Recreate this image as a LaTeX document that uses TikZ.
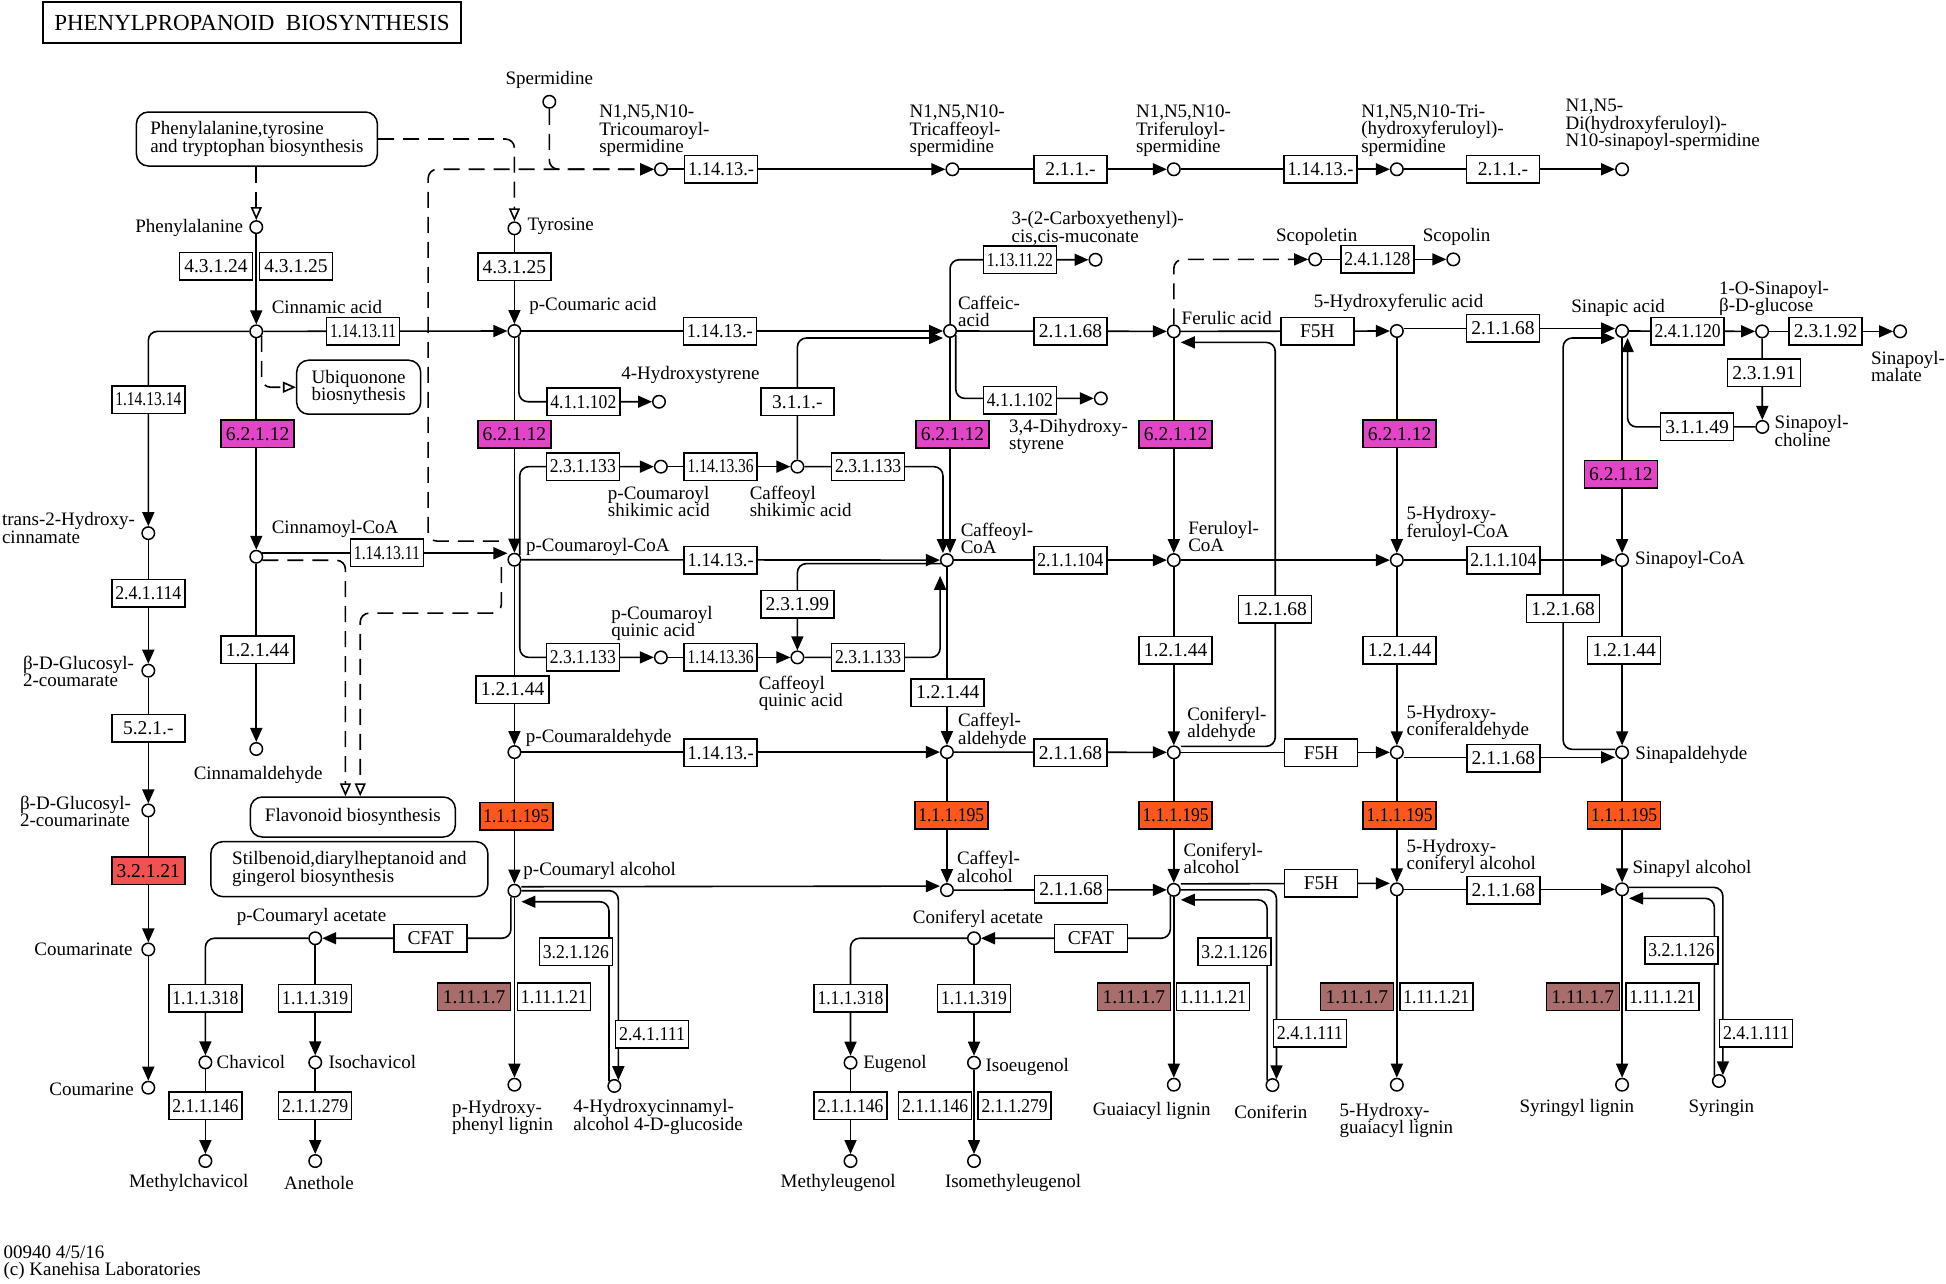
\documentclass[tikz,border=0pt]{standalone}
\usepackage{graphicx}
\usepackage{fontspec}
\setmainfont{Liberation Serif}
\usetikzlibrary{arrows.meta,backgrounds}
\definecolor{ecmag}{RGB}{226,70,198}
\definecolor{ecora}{RGB}{252,88,30}
\definecolor{ecred}{RGB}{240,82,82}
\definecolor{ecbrn}{RGB}{168,110,110}
\newcommand\lbl{\fontsize{19}{17.5}\selectfont}
\newcommand\ectext{\fontsize{19.5}{19.5}\selectfont}
\newsavebox\ecsave
\newcommand\ecfit[1]{\sbox\ecsave{#1}\ifdim\wd\ecsave>66pt\pgfmathsetmacro\ecratio{66/\wd\ecsave}\scalebox{\ecratio}[1]{#1}\else\usebox\ecsave\fi}
\newcommand\ec[4][white]{\node[ec,fill=#1] (#2) at (#3) {\ecfit{#4}};}
\newcommand\cpd[2]{\node[cpd] (#1) at (#2) {};}
\begin{document}
\begin{tikzpicture}[x=1.241pt,y=-1.241pt,
  >={Triangle[length=14pt,width=12pt]},
  cpd/.style={circle,draw,fill=white,line width=1.5pt,inner sep=0pt,minimum size=12.5pt},
  ec/.style={draw,fill=white,line width=1.5pt,minimum width=73pt,minimum height=27.5pt,inner sep=0pt,font=\ectext},
  lab/.style={inner sep=0pt,align=left,font=\lbl},
  mapbox/.style={draw,fill=white,rounded corners=12pt,line width=1.5pt,align=left,font=\lbl},
  conn/.style={line width=1.6pt,rounded corners=9pt},
  dlink/.style={dash pattern=on 16pt off 9pt},
  tomap/.style={dlink,-{Triangle[fill=white,length=13pt,width=11pt]}}]
\useasboundingbox (0,0) rectangle (1568,1034);
\node[draw,line width=2.5pt,minimum width=418pt,minimum height=41pt,font=\fontsize{23}{23}\selectfont] (title) at (203,18.2) {PHENYLPROPANOID\ \ BIOSYNTHESIS};
% maps
\node[mapbox,minimum width=241pt,minimum height=54pt] (pty) at (207,112) {Phenylalanine,tyrosine\\and tryptophan biosynthesis};
\node[mapbox,minimum width=124pt,minimum height=54pt] (ubi) at (289,312) {Ubiquonone\\biosnythesis};
\node[mapbox,minimum width=205pt,minimum height=40pt] (fla) at (284.3,658.3) {Flavonoid biosynthesis};
\node[mapbox,minimum width=277pt,minimum height=55pt] (stl) at (281.5,700.3) {Stilbenoid,diarylheptanoid and\\gingerol biosynthesis};
% compounds
\cpd{spd}{442.6,82}
\cpd{phe}{206.5,183}
\cpd{tyr}{414.5,184}
\cpd{tcs}{532.6,136.4}
\cpd{tcfs}{767.4,136.4}
\cpd{tfs}{945.8,136.4}
\cpd{thfs}{1125.5,136.4}
\cpd{dhfs}{1307,136.4}
\cpd{ccm}{882.7,209.3}
\cpd{scp}{1059.7,209}
\cpd{scn}{1171,209}
\cpd{cin}{206.5,267}
\cpd{pca}{414.5,266.7}
\cpd{caf}{765.5,266.7}
\cpd{fer}{945.8,267}
\cpd{hfa}{1125.5,266.7}
\cpd{sa}{1307,266.7}
\cpd{sgl}{1419.8,267}
\cpd{smal}{1531,267}
\cpd{hst}{531,323.7}
\cpd{dhst}{887,321}
\cpd{sch}{1420,344}
\cpd{pcs}{532.5,376}
\cpd{cfs}{642.5,376}
\cpd{th}{119.5,429.6}
\cpd{cca}{206.5,448.6}
\cpd{pcoa}{414.5,451}
\cpd{cfcoa}{763,451.3}
\cpd{fcoa}{945.8,451.3}
\cpd{hfcoa}{1125.5,451.3}
\cpd{scoa}{1307,451.3}
\cpd{pcq}{532.5,529.7}
\cpd{cfq}{642.5,529.7}
\cpd{gc}{119.5,540.4}
\cpd{cal}{206.5,603.5}
\cpd{pcald}{414.5,606}
\cpd{cald}{763,606}
\cpd{cnald}{945.8,606.2}
\cpd{hcald}{1125.5,606.2}
\cpd{sald}{1307,606.2}
\cpd{gcn}{119.5,653}
\cpd{pcoh}{414.5,717.7}
\cpd{caoh}{763,717.2}
\cpd{cnoh}{945.8,717}
\cpd{hcoh}{1125.5,716.6}
\cpd{snoh}{1307,716.6}
\cpd{pcac}{254,756}
\cpd{cnac}{784.8,756}
\cpd{cmt}{119.5,765}
\cpd{chv}{165.5,856}
\cpd{ichv}{254,856}
\cpd{eug}{685.3,856.3}
\cpd{ieug}{784.8,856.3}
\cpd{pcl}{414.5,874}
\cpd{hcg}{495,875}
\cpd{gl}{945.8,874}
\cpd{cnf}{1025.3,874.3}
\cpd{hgl}{1125.5,874}
\cpd{sl}{1307,874}
\cpd{syr}{1385,871}
\cpd{cmn}{119.5,876.4}
\cpd{mchv}{165.5,935.5}
\cpd{anet}{254,935.5}
\cpd{meug}{685.3,935.5}
\cpd{imeug}{784.8,935.5}
% enzymes
\ec{e4324}{174,214.5}{4.3.1.24}
\ec{e4325a}{238.5,214.5}{4.3.1.25}
\ec{e4325b}{414.5,215}{4.3.1.25}
\ec{e1141311a}{292.6,267}{1.14.13.11}
\ec{e1141314}{119.5,322}{1.14.13.14}
\ec{e1141311b}{311.8,445.4}{1.14.13.11}
\ec{e241114}{119.5,478}{2.4.1.114}
\ec{e521}{119.5,586.6}{5.2.1.-}
\ec[ecred]{e32121}{119.5,701.6}{3.2.1.21}
\foreach \n/\p in {a/{207.6,349.5},b/{414.5,349.7},c/{767.5,349.7},d/{947.3,349.7},e/{1127.7,349.5},f/{1306,382}}
  {\ec[ecmag]{e6212\n}{\p}{6.2.1.12}}
\foreach \n/\p in {a/{207.5,523.5},b/{413,555.7},c/{763.6,558},d/{947.3,523.8},e/{1127.7,523.8},f/{1308.7,523.8}}
  {\ec{e12144\n}{\p}{1.2.1.44}}
\foreach \n/\p in {a/{416,657.5},b/{766.5,656.7},c/{947.3,656.7},d/{1127.7,656.7},e/{1308.7,656.7}}
  {\ec[ecora]{e111195\n}{\p}{1.1.1.195}}
\ec{e11413a}{581,136.4}{1.14.13.-}
\ec{e211a}{862.5,136.4}{2.1.1.-}
\ec{e11413b}{1064,136.4}{1.14.13.-}
\ec{e211b}{1211,136.4}{2.1.1.-}
\ec{e11413c}{580,266.7}{1.14.13.-}
\ec{e11413d}{580.7,451.5}{1.14.13.-}
\ec{e11413e}{580.7,606.5}{1.14.13.-}
\ec{e41102a}{470,323.7}{4.1.1.102}
\ec{e41102b}{821.8,322.3}{4.1.1.102}
\ec{e23133a}{469.6,376}{2.3.1.133}
\ec{e23133b}{699.5,376}{2.3.1.133}
\ec{e23133c}{469.6,529.7}{2.3.1.133}
\ec{e23133d}{699.5,529.7}{2.3.1.133}
\ec{e1141336a}{580.7,376}{1.14.13.36}
\ec{e1141336b}{580.7,529.7}{1.14.13.36}
\ec{e311}{642.5,323.7}{3.1.1.-}
\ec{e23199}{642.5,486.7}{2.3.1.99}
\ec{e1131122}{821.8,209.3}{1.13.11.22}
\ec{e21168a}{862.5,266.7}{2.1.1.68}
\ec{e21168b}{1211,264.6}{2.1.1.68}
\ec{e21168c}{862.5,606.5}{2.1.1.68}
\ec{e21168d}{1211.3,611}{2.1.1.68}
\ec{e21168e}{863,716.5}{2.1.1.68}
\ec{e21168f}{1211.3,717.2}{2.1.1.68}
\ec{e211104a}{862.5,451.5}{2.1.1.104}
\ec{e211104b}{1211.3,451.5}{2.1.1.104}
\ec{e241128}{1109.8,209}{2.4.1.128}
\ec{f5ha}{1061.5,267}{F5H}
\ec{f5hb}{1064.5,606.5}{F5H}
\ec{f5hc}{1064.5,711.8}{F5H}
\ec{e241120}{1359.8,267}{2.4.1.120}
\ec{e23192}{1471,267}{2.3.1.92}
\ec{e23191}{1421.3,300.3}{2.3.1.91}
\ec{e31149}{1367.4,344}{3.1.1.49}
\ec{e12168a}{1027.5,491}{1.2.1.68}
\ec{e12168b}{1259.5,490.5}{1.2.1.68}
\ec{cfata}{347,756}{CFAT}
\ec{cfatb}{879,756}{CFAT}
\ec{e111318a}{165.5,804.5}{1.1.1.318}
\ec{e111319a}{254,804.5}{1.1.1.319}
\ec{e211146a}{165.5,891}{2.1.1.146}
\ec{e211279a}{254,891}{2.1.1.279}
\ec{e111318b}{685.3,804.5}{1.1.1.318}
\ec{e111319b}{784.8,804.5}{1.1.1.319}
\ec{e211146b}{685.3,891}{2.1.1.146}
\ec{e211146c}{753.5,891}{2.1.1.146}
\ec{e211279b}{817.6,891}{2.1.1.279}
\foreach \n/\x in {a/382,b/913.6,c/1093.3,d/1275.3}
  {\ec[ecbrn]{e11117\n}{\x,803.2}{1.11.1.7}}
\foreach \n/\x in {a/446.3,b/977.5,c/1157.3,d/1339.4}
  {\ec{e111121\n}{\x,803.2}{1.11.1.21}}
\ec{e321126a}{464,767}{3.2.1.126}
\ec{e321126b}{994.5,767}{3.2.1.126}
\ec{e321126c}{1354.7,765.5}{3.2.1.126}
\ec{e241111a}{525.5,833.5}{2.4.1.111}
\ec{e241111b}{1055.5,832.7}{2.4.1.111}
\ec{e241111c}{1414.9,832.7}{2.4.1.111}
% labels
\node[lab] (lspd) at (442.6,64.5) {Spermidine};
\node[lab,anchor=east] (lphe) at (196,184) {Phenylalanine};
\node[lab,anchor=west] (ltyr) at (425,182) {Tyrosine};
\node[lab,anchor=west] (ltcs) at (482.7,105.5) {N1,N5,N10-\\Tricoumaroyl-\\spermidine};
\node[lab,anchor=west] (ltcfs) at (732.8,105.5) {N1,N5,N10-\\Tricaffeoyl-\\spermidine};
\node[lab,anchor=west] (ltfs) at (915.2,105.5) {N1,N5,N10-\\Triferuloyl-\\spermidine};
\node[lab,anchor=west] (lthfs) at (1096.7,105.3) {N1,N5,N10-Tri-\\(hydroxyferuloyl)-\\spermidine};
\node[lab,anchor=west] (ldhfs) at (1261.3,100.7) {N1,N5-\\Di(hydroxyferuloyl)-\\N10-sinapoyl-spermidine};
\node[lab,anchor=west] (lccm) at (815,184.2) {3-(2-Carboxyethenyl)-\\cis,cis-muconate};
\node[lab] (lscp) at (1061,190.7) {Scopoletin};
\node[lab] (lscn) at (1173.6,190.7) {Scopolin};
\node[lab,anchor=west] (lcin) at (218.8,247) {Cinnamic acid};
\node[lab,anchor=west] (lpca) at (426.4,246.6) {p-Coumaric acid};
\node[lab,anchor=west] (lcaf) at (771.8,251) {Caffeic-\\acid};
\node[lab,anchor=west] (lfer) at (952,256.5) {Ferulic acid};
\node[lab,anchor=west] (lhfa) at (1058.5,244.4) {5-Hydroxyferulic acid};
\node[lab,anchor=west] (lsa) at (1266,248.5) {Sinapic acid};
\node[lab,anchor=west] (lsgl) at (1385,240.3) {1-O-Sinapoyl-\\β-D-glucose};
\node[lab,anchor=west] (lsmal) at (1507.5,295.3) {Sinapoyl-\\malate};
\node[lab,anchor=west] (lsch) at (1429.8,347.2) {Sinapoyl-\\choline};
\node[lab,anchor=west] (lhst) at (500.5,302) {4-Hydroxystyrene};
\node[lab,anchor=west] (ldhst) at (813,351.8) {3,4-Dihydroxy-\\styrene};
\node[lab,anchor=west] (lth) at (1.5,425.5) {trans-2-Hydroxy-\\cinnamate};
\node[lab,anchor=west] (lcca) at (218.8,426.5) {Cinnamoyl-CoA};
\node[lab,anchor=west] (lpcoa) at (423.7,440.5) {p-Coumaroyl-CoA};
\node[lab,anchor=west] (lpcs) at (489.7,404) {p-Coumaroyl\\shikimic acid};
\node[lab,anchor=west] (lcfs) at (604,404) {Caffeoyl\\shikimic acid};
\node[lab,anchor=west] (lcfcoa) at (774,433.8) {Caffeoyl-\\CoA};
\node[lab,anchor=west] (lfcoa) at (957.3,432.3) {Feruloyl-\\CoA};
\node[lab,anchor=west] (lhfcoa) at (1133.2,422.3) {5-Hydroxy-\\feruloyl-CoA};
\node[lab,anchor=west] (lscoa) at (1317.3,451.3) {Sinapoyl-CoA};
\node[lab,anchor=west] (lpcq) at (492.4,502.3) {p-Coumaroyl\\quinic acid};
\node[lab,anchor=west] (lcfq) at (611.3,558.7) {Caffeoyl\\quinic acid};
\node[lab,anchor=west] (lgc) at (18.4,541) {β-D-Glucosyl-\\2-coumarate};
\node[lab] (lcal) at (208,624.5) {Cinnamaldehyde};
\node[lab,anchor=west] (lpcald) at (423.6,595) {p-Coumaraldehyde};
\node[lab,anchor=west] (lcald) at (771.8,589) {Caffeyl-\\aldehyde};
\node[lab,anchor=west] (lcnald) at (956.5,583.6) {Coniferyl-\\aldehyde};
\node[lab,anchor=west] (lhcald) at (1133.2,582) {5-Hydroxy-\\coniferaldehyde};
\node[lab,anchor=west] (lsald) at (1317.6,608.4) {Sinapaldehyde};
\node[lab,anchor=west] (lgcn) at (16,653.8) {β-D-Glucosyl-\\2-coumarinate};
\node[lab,anchor=west] (lpcoh) at (421.6,701.6) {p-Coumaryl alcohol};
\node[lab,anchor=west] (lcaoh) at (771,698.3) {Caffeyl-\\alcohol};
\node[lab,anchor=west] (lcnoh) at (953.6,691.7) {Coniferyl-\\alcohol};
\node[lab,anchor=west] (lhcoh) at (1133.2,690) {5-Hydroxy-\\coniferyl alcohol};
\node[lab,anchor=west] (lsnoh) at (1315.3,700.5) {Sinapyl alcohol};
\node[lab] (lpcac) at (251,739.2) {p-Coumaryl acetate};
\node[lab] (lcnac) at (788,740.5) {Coniferyl acetate};
\node[lab,anchor=east] (lcmt) at (107,765) {Coumarinate};
\node[lab,anchor=east] (lcmn) at (108,877.5) {Coumarine};
\node[lab,anchor=west] (lchv) at (174.4,856) {Chavicol};
\node[lab,anchor=west] (lichv) at (264.6,856) {Isochavicol};
\node[lab,anchor=west] (leug) at (695.4,857) {Eugenol};
\node[lab,anchor=west] (lieug) at (794,859.5) {Isoeugenol};
\node[lab] (lmchv) at (152,953.5) {Methylchavicol};
\node[lab] (lanet) at (257,953.5) {Anethole};
\node[lab] (lmeug) at (675.4,953.5) {Methyleugenol};
\node[lab] (limeug) at (816.3,953.5) {Isomethyleugenol};
\node[lab,anchor=west] (lpcl) at (364.2,900.2) {p-Hydroxy-\\phenyl lignin};
\node[lab,anchor=west] (lhcg) at (461.9,899.8) {4-Hydroxycinnamyl-\\alcohol 4-D-glucoside};
\node[lab] (lgl) at (928,895) {Guaiacyl lignin};
\node[lab] (lcnf) at (1024,895.8) {Coniferin};
\node[lab,anchor=west] (lhgl) at (1079.3,903) {5-Hydroxy-\\guaiacyl lignin};
\node[lab] (lsl) at (1270.5,893) {Syringyl lignin};
\node[lab] (lsyr) at (1387,893) {Syringin};
\node[lab,anchor=west] (lfoot) at (2.7,1017.6) {00940 4/5/16\\(c) Kanehisa Laboratories};
\coordinate (pcoaS) at (402,436);
\coordinate (pcoaF) at (404,457);
\coordinate (cfcoaB) at (757.5,464);
% connectors
\begin{pgfonlayer}{background}
\begin{scope}[conn]
\draw[tomap] (phe |- pty.south) -- (phe);
\draw[tomap] (pty.east) -| (tyr);
\draw[tomap] (cin.-40) |- (ubi.west);
\draw[tomap] (cca.-30) -| ([xshift=-7.4pt]fla.north);
\draw[tomap] (pcoaF) -- (404,494) -| ([xshift=7.4pt]fla.north);
\draw[dlink,->] (spd) |- (tcs);
\draw[dlink,->] (pcoaS) -- (345,436) |- (tcs);
\draw[dlink,->] (fer) |- (scp);
\draw[->] (tcs) -- (tcfs);
\draw[->] (tcfs) -- (tfs);
\draw[->] (tfs) -- (thfs);
\draw[->] (thfs) -- (dhfs);
\draw[->] (phe) -- (cin);
\draw[->] (tyr) -- (pca);
\draw[->] (cin) -- (pca);
\draw[->] (cin) -| (th);
\draw[->] (th) -- (gc);
\draw[->] (gc) -- (gcn);
\draw[->] (gcn) -- (cmt);
\draw[->] (cmt) -- (cmn);
\draw[->] (cin) -- (cca);
\draw[->] (cca.30) -- (cca.30 -| pcoa.west);
\draw[->] (cca) -- (cal);
\draw[->] (pca) -- (caf);
\draw[->] (pca.-50) |- (hst);
\draw[->] (pca) -- (pcoa);
\draw[->] (pcoa.40) |- (pcs);
\draw[->] (pcs) -- (cfs);
\draw[->] (cfs) -| ([xshift=-4pt]cfcoa.north);
\draw[->] (cfs) |- ([yshift=-7pt]caf.west);
\draw[->] (caf) |- (ccm);
\draw[->] (caf.-35) |- (dhst);
\draw[->] (caf.south) -- (caf.south |- cfcoa.north);
\draw[->] (caf) -- (fer);
\draw[->] (pcoa) -- (cfcoa);
\draw[->] (pcoa.-40) |- (pcq);
\draw[->] (pcq) -- (cfq);
\draw[->] (cfq) -| (cfcoaB);
\draw[->] (cfcoa.-150) -| (cfq);
\draw[->] (cfcoa) -- (fcoa);
\draw[->] (cfcoa) -- (cald);
\draw[->] (fer) -- (fcoa);
\draw[->] (scp) -- (scn);
\draw[->] (fer) -- (hfa);
\draw[->] ([yshift=2.5pt]hfa.east) -- ([yshift=2.5pt]sa.west);
\draw[->] (hfa) -- (hfcoa);
\draw[->] (sa) -- (sgl);
\draw[->] (sgl) -- (smal);
\draw[->] (sgl) -- (sch);
\draw[->] (sch) -| ([xshift=5.5pt]sa.south);
\draw[->] (sa) -- (scoa);
\draw[->] (fcoa) -- (hfcoa);
\draw[->] (hfcoa) -- (scoa);
\draw[->] (fcoa) -- (cnald);
\draw[->] (hfcoa) -- (hcald);
\draw[->] (scoa) -- (sald);
\draw[->] (pcoa) -- (pcald);
\draw[->] (pcald) -- (cald);
\draw[->] (cald) -- (cnald);
\draw[->] (cnald) -- (hcald);
\draw[->] ([yshift=-5pt]hcald.east) -- ([yshift=-5pt]sald.west);
\draw[->] ([yshift=6pt]cnald.east) -| (e12168a.center) |- ([yshift=-11pt]fer.east);
\draw[->] ([yshift=3pt]sald.west) -| (e12168b.center) |- ([yshift=-7pt]sa.west);
\draw[->] (pcald) -- (pcoh);
\draw[->] (cald) -- (caoh);
\draw[->] (cnald) -- (cnoh);
\draw[->] (hcald) -- (hcoh);
\draw[->] (sald) -- (snoh);
\draw[->] ([yshift=4pt]pcoh.east) -- ([yshift=4pt]caoh.west);
\draw[->] (caoh) -- (cnoh);
\draw[->] ([yshift=6pt]cnoh.east) -- ([yshift=6pt]hcoh.west);
\draw[->] (hcoh) -- (snoh);
% lignin, acetates, glucosides
\draw[->] (pcoh) -- (pcl);
\draw[->] (pcoh.-120) |- (pcac);
\draw[->] (pcac) -| (chv);
\draw[->] (pcac) -- (ichv);
\draw[->] (chv) -- (mchv);
\draw[->] (ichv) -- (anet);
\draw[->] (pcoh.east) -| (hcg.55);
\draw[->] (hcg.140) |- ([yshift=-11pt]pcoh.east);
\draw[->] (cnoh.-120) |- (cnac);
\draw[->] (cnac) -| (eug);
\draw[->] (cnac) -- (ieug);
\draw[->] (eug) -- (meug);
\draw[->] (ieug) -- (imeug);
\draw[->] (cnoh) -- (gl);
\draw[->] (cnoh.east) -| (cnf.55);
\draw[->] (cnf.140) |- ([yshift=-10pt]cnoh.east);
\draw[->] (hcoh) -- (hgl);
\draw[->] (snoh) -- (sl);
\draw[->] ([yshift=2pt]snoh.east) -| (syr.55);
\draw[->] (syr.130) |- ([yshift=-9pt]snoh.east);
\end{scope}
\end{pgfonlayer}
\end{tikzpicture}
\end{document}
